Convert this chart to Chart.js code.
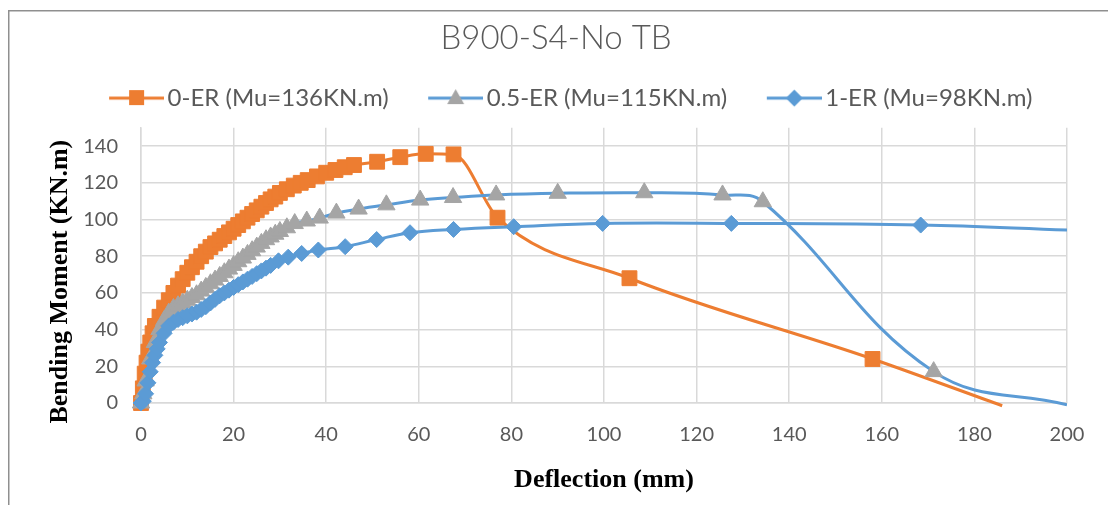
<!DOCTYPE html>
<html>
<head>
<meta charset="utf-8">
<script src="https://cdn.jsdelivr.net/npm/chart.js@4.4.1/dist/chart.umd.min.js"></script>
<style>
  html, body { margin: 0; padding: 0; background: #fff; }
  #bm_chart { display: block; }
</style>
</head>
<body>
<canvas id="bm_chart" width="1108" height="505"></canvas>
<script>
// B900-S4-No TB : bending moment vs mid-span deflection

const x_ticks = [0, 20, 40, 60, 80, 100, 120, 140, 160, 180, 200];
const y_ticks = [0, 20, 40, 60, 80, 100, 120, 140];

const series_labels = ['0-ER (Mu=136KN.m)', '0.5-ER (Mu=115KN.m)', '1-ER (Mu=98KN.m)'];

// 0-ER
const er0_deflection = [0, 0.4, 0.8, 1.2, 1.6, 2, 2.5, 3, 4, 5, 6, 7, 8, 9, 10, 11, 12, 13, 14, 15, 16, 17, 18, 19, 20, 21, 22, 23, 24, 25, 26, 27, 28, 29, 30, 31.5, 33, 34.5, 36, 38, 40, 42, 44, 46, 51, 56, 61.5, 67.5, 77, 105.5, 158, 186];
const er0_moment = [0, 8, 16, 22, 28, 33, 38, 42, 47, 52, 56, 60, 64, 67.5, 71, 74, 77, 80, 82.5, 85, 87, 89, 91, 93, 95, 97, 99, 101, 103, 105, 107, 109, 111, 112.5, 114.5, 116.5, 118.5, 120, 121.5, 123.5, 125.5, 127, 128.5, 129.7, 131.5, 134, 135.8, 135.5, 101, 68, 24, -1.5];

// 0.5-ER
const er05_deflection = [0, 0.5, 1, 2, 3, 4, 5, 6, 7, 8, 9, 10, 11, 12, 13, 14, 15, 16, 17, 18, 19, 20, 21, 22, 23, 24, 25, 26, 27, 28, 29, 30, 31.5, 33.2, 35.8, 38.6, 42.2, 47, 53, 60.3, 67.4, 76.7, 90, 108.7, 125.6, 134.3, 171.2, 200];
const er05_moment = [0, 5, 12, 24, 33, 40, 45, 49, 51.5, 53, 54.5, 56, 57.5, 59, 61, 63, 65, 67, 69, 71, 73, 75, 77, 79, 81, 83, 85, 87, 89, 90.5, 92, 93.5, 95.5, 97.8, 99.2, 100.8, 103.5, 105.7, 108, 110.6, 112, 113.4, 114.3, 114.6, 113.4, 109.7, 17.1, -1];

// 1-ER
const er1_deflection = [0, 0.5, 1, 1.5, 2, 2.5, 3, 3.5, 4, 5, 6, 7, 8, 9, 10, 11, 12, 13, 14, 15, 16, 17, 18, 19, 20, 21, 22, 23, 24, 25, 26, 27, 28, 29.7, 31.8, 34.7, 38.3, 44.1, 50.9, 58.1, 67.5, 80.5, 99.7, 127.5, 168.4, 200];
const er1_moment = [0, 1, 5, 11, 17, 22, 26, 29.5, 33, 38, 42, 44, 45.5, 46.5, 47.5, 48.5, 49.5, 51, 52.5, 54.5, 56.5, 58.5, 60, 61.5, 63, 64.5, 66, 67.5, 69, 70.5, 72, 73.5, 75, 77.5, 79.5, 81.5, 83.4, 85.2, 89.1, 92.8, 94.6, 96.1, 97.9, 97.9, 97, 94.3];

const orange = '#ED7D31';
const blue = '#5B9BD5';
const gray = '#A5A5A5';

function to_points(xs, ys) {
  return xs.map((x, i) => ({ x: x, y: ys[i] }));
}

// excel puts no marker on the last point where the curve leaves the plot
function marker_radius(r) {
  return ctx => ctx.dataIndex === ctx.dataset.data.length - 1 ? 0 : r;
}

// little line + marker picture used as legend key
function legend_symbol(line_color, marker_color, style) {
  const c = document.createElement('canvas');
  c.width = 93;
  c.height = 22;
  const g = c.getContext('2d');
  g.strokeStyle = line_color;
  g.lineWidth = 3;
  g.beginPath();
  g.moveTo(38, 11);
  g.lineTo(93, 11);
  g.stroke();
  g.fillStyle = marker_color;
  g.beginPath();
  if (style === 'rect') {
    g.rect(58, 3, 15, 15);
  } else if (style === 'triangle') {
    g.moveTo(65.5, 2);
    g.lineTo(74, 17);
    g.lineTo(57, 17);
  } else {
    g.moveTo(65.5, 2.5);
    g.lineTo(74, 11);
    g.lineTo(65.5, 19.5);
    g.lineTo(57, 11);
  }
  g.closePath();
  g.fill();
  return c;
}

const legend_symbols = [
  legend_symbol(orange, orange, 'rect'),
  legend_symbol(blue, gray, 'triangle'),
  legend_symbol(blue, blue, 'rectRot')
];

const frame_plugin = {
  id: 'frame',
  beforeDraw(chart) {
    const ctx = chart.ctx;
    ctx.save();
    ctx.fillStyle = '#ffffff';
    ctx.fillRect(0, 0, chart.width, chart.height);
    ctx.strokeStyle = '#8f8f8f';
    ctx.lineWidth = 1.5;
    ctx.beginPath();
    ctx.moveTo(8.75, chart.height);
    ctx.lineTo(8.75, 10.75);
    ctx.lineTo(chart.width, 10.75);
    ctx.stroke();
    ctx.restore();
  }
};

const clip_area = { left: 12, top: 0, right: 0, bottom: 12 };

const ctx = document.getElementById('bm_chart').getContext('2d');

const bm_chart = new Chart(ctx, {
  type: 'line',
  data: {
    datasets: [
      {
        label: series_labels[0],
        data: to_points(er0_deflection, er0_moment),
        borderColor: orange,
        borderWidth: 3,
        pointStyle: 'rect',
        pointRadius: marker_radius(10.5),
        pointBackgroundColor: orange,
        pointBorderColor: orange,
        pointBorderWidth: 1,
        cubicInterpolationMode: 'monotone',
        clip: clip_area,
        order: 3
      },
      {
        label: series_labels[1],
        data: to_points(er05_deflection, er05_moment),
        borderColor: blue,
        borderWidth: 3,
        pointStyle: 'triangle',
        pointRadius: marker_radius(10),
        pointBackgroundColor: gray,
        pointBorderColor: gray,
        pointBorderWidth: 1,
        tension: 0.4,
        clip: clip_area,
        order: 2
      },
      {
        label: series_labels[2],
        data: to_points(er1_deflection, er1_moment),
        borderColor: blue,
        borderWidth: 3,
        pointStyle: 'rectRot',
        pointRadius: marker_radius(8),
        pointBackgroundColor: blue,
        pointBorderColor: blue,
        pointBorderWidth: 1,
        tension: 0.4,
        clip: clip_area,
        order: 1
      }
    ]
  },
  options: {
    responsive: false,
    animation: false,
    events: [],
    layout: {
      padding: { left: 4, right: 0, top: 0, bottom: 0 }
    },
    plugins: {
      title: {
        display: true,
        text: 'B900-S4-No TB',
        color: '#595959',
        font: { family: 'Lato', size: 33, weight: 300 },
        padding: { top: 19, bottom: 17.5 }
      },
      legend: {
        display: true,
        labels: {
          usePointStyle: true,
          pointStyleWidth: 76,
          padding: 10,
          color: '#595959',
          font: { family: 'Lato', size: 24 },
          generateLabels: chart => chart.data.datasets.map((ds, i) => ({
            text: ds.label,
            pointStyle: legend_symbols[i],
            fillStyle: 'rgba(0,0,0,0)',
            strokeStyle: 'rgba(0,0,0,0)',
            lineWidth: 0,
            hidden: false,
            datasetIndex: i,
            fontColor: '#595959'
          }))
        }
      },
      tooltip: { enabled: false }
    },
    scales: {
      x: {
        type: 'linear',
        position: 'bottom',
        min: 0,
        max: 200,
        afterBuildTicks: scale => { scale.ticks = x_ticks.map(v => ({ value: v })); },
        afterFit: scale => { scale.height = 102; },
        grid: { color: '#D9D9D9', lineWidth: 1.5, drawTicks: false },
        border: { color: '#D9D9D9', width: 1.5 },
        ticks: {
          color: '#595959',
          font: { family: 'Lato', size: 20 },
          padding: 20,
          autoSkip: false,
          maxRotation: 0
        },
        title: {
          display: true,
          text: 'Deflection (mm)',
          color: '#000000',
          font: { family: 'Liberation Serif', size: 26, weight: 'bold' },
          padding: { top: 0, bottom: 9 }
        }
      },
      y: {
        type: 'linear',
        position: 'left',
        min: 0,
        max: 150,
        afterBuildTicks: scale => { scale.ticks = y_ticks.map(v => ({ value: v })); },
        afterFit: scale => { scale.width = 137; },
        grid: { color: '#D9D9D9', lineWidth: 1.5, drawTicks: false },
        border: { color: '#D9D9D9', width: 1.5 },
        ticks: {
          color: '#595959',
          font: { family: 'Lato', size: 20 },
          padding: 23
        },
        title: {
          display: true,
          text: 'Bending Moment (KN.m)     ',
          color: '#000000',
          font: { family: 'Liberation Serif', size: 26, weight: 'bold' },
          padding: { top: 41, bottom: 0 }
        }
      },
      // spacers: gap under the legend and room right of the plot
      x_top: {
        type: 'linear',
        position: 'top',
        grid: { display: false },
        border: { display: false },
        ticks: { display: false },
        afterFit: scale => { scale.height = 7.7; }
      },
      y_right: {
        type: 'linear',
        position: 'right',
        grid: { display: false },
        border: { display: false },
        ticks: { display: false },
        afterFit: scale => { scale.width = 41; }
      }
    }
  },
  plugins: [frame_plugin]
});
</script>
</body>
</html>
